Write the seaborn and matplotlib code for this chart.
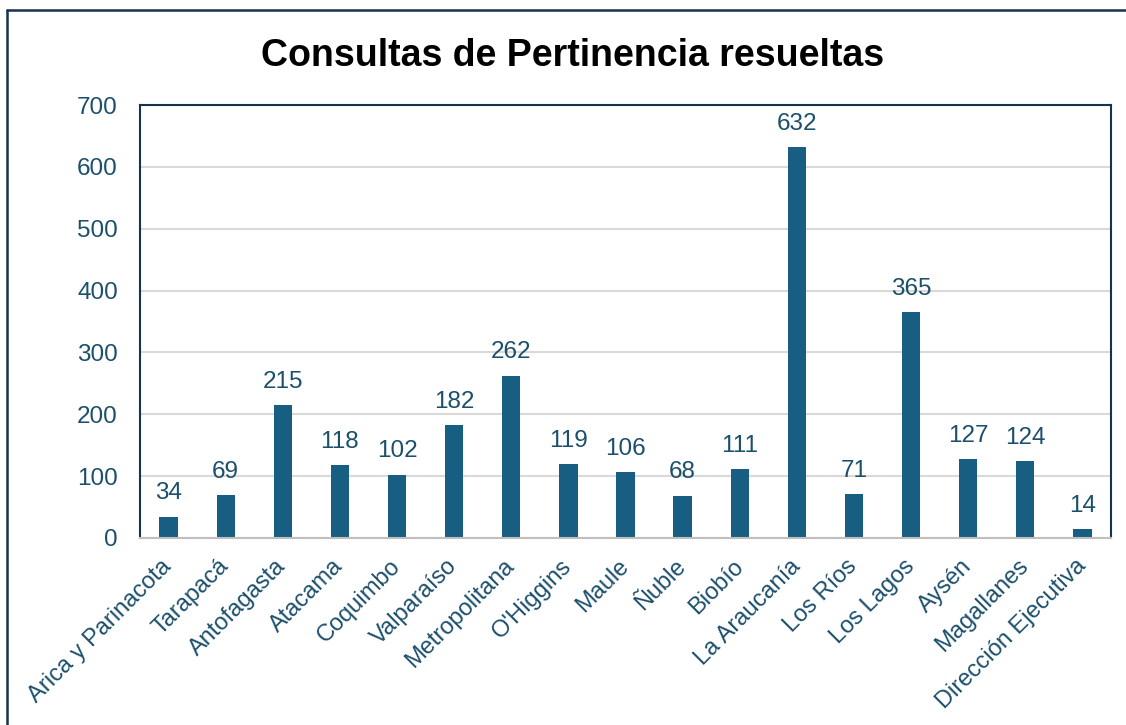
import matplotlib
matplotlib.use("Agg")
import matplotlib.pyplot as plt
import seaborn as sns
import pandas as pd
from matplotlib.lines import Line2D

regions = ["Arica y Parinacota", "Tarapacá", "Antofagasta", "Atacama", "Coquimbo",
           "Valparaíso", "Metropolitana", "O'Higgins", "Maule", "Ñuble", "Biobío",
           "La Araucanía", "Los Ríos", "Los Lagos", "Aysén", "Magallanes",
           "Dirección Ejecutiva"]
values = [34, 69, 215, 118, 102, 182, 262, 119, 106, 68, 111, 632, 71, 365, 127, 124, 14]
yticks = [0, 100, 200, 300, 400, 500, 600, 700]
title = "Consultas de Pertinencia resueltas"

sns.set_theme(style="white")
plt.rcParams["font.family"] = ["Liberation Sans", "DejaVu Sans"]

bar_color = "#175e82"
text_color = "#1b4f6b"
navy = "#17324d"

df = pd.DataFrame({"region": regions, "value": values})

fig = plt.figure(figsize=(11.26, 7.25), dpi=100)
ax = fig.add_axes([140/1126, 1-538/725, (1111-140)/1126, (538-105)/725])

sns.barplot(data=df, x="region", y="value", color=bar_color, width=0.32,
            saturation=1, ax=ax, edgecolor="none")

ax.set_ylim(0, 700)
ax.set_xlim(-0.5, len(regions)-0.5)
ax.set_yticks(yticks)
ax.set_yticklabels([str(t) for t in yticks])
ax.yaxis.grid(True, color="#d9d9d9", linewidth=1.5)
ax.set_axisbelow(True)
ax.set_xlabel("")
ax.set_ylabel("")
ax.tick_params(axis="y", length=0, pad=16, labelsize=17.5, labelcolor=text_color)
ax.tick_params(axis="x", length=0, pad=18, labelsize=17, labelcolor=text_color)
for lbl in ax.get_xticklabels():
    lbl.set_rotation(45)
    lbl.set_ha("right")
    lbl.set_va("center")
    lbl.set_rotation_mode("anchor")

for side in ["left", "top", "right"]:
    ax.spines[side].set_color(navy)
    ax.spines[side].set_linewidth(1.5)
ax.spines["bottom"].set_color("#bfbfbf")
ax.spines["bottom"].set_linewidth(1.5)

for c in ax.containers:
    ax.bar_label(c, labels=[str(v) for v in values], padding=9, fontsize=17.5, color=text_color)

fig.text(573/1126, 1-66/725, title, ha="center", va="baseline", fontsize=27,
         fontweight="bold", color="black")

# outer frame (left and top edges)
fig.add_artist(Line2D([7.5/1126, 7.5/1126], [0, 1-10/725], transform=fig.transFigure,
                      color=navy, linewidth=1.8))
fig.add_artist(Line2D([7.5/1126, 1], [1-10/725, 1-10/725], transform=fig.transFigure,
                      color=navy, linewidth=1.8))

fig.savefig("out.png", dpi=100)
